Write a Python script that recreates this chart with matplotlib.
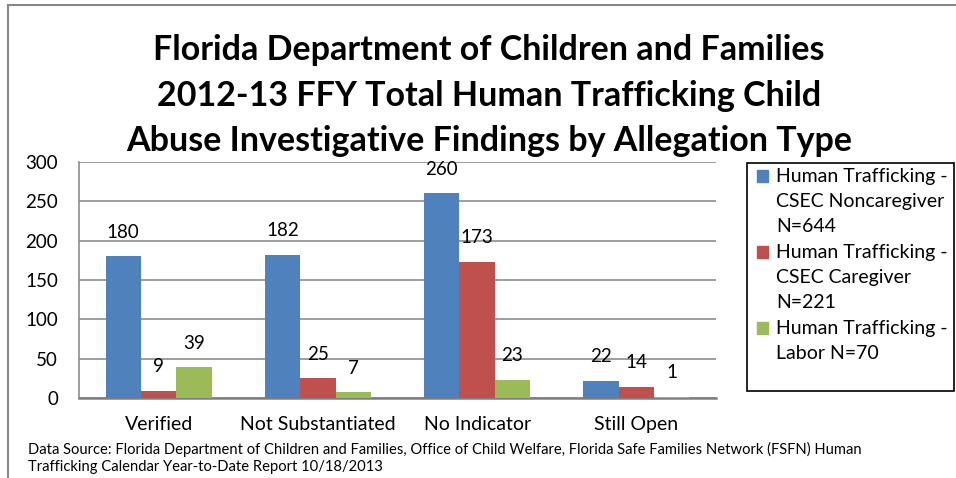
import matplotlib
matplotlib.use("Agg")
import matplotlib.pyplot as plt
import numpy as np
from matplotlib.patches import Rectangle
from matplotlib.lines import Line2D

plt.rcParams['font.family'] = ['Lato', 'DejaVu Sans']

categories = ["Verified", "Not Substantiated", "No Indicator", "Still Open"]
series_names = ["Human Trafficking -\nCSEC Noncaregiver\nN=644",
                "Human Trafficking -\nCSEC Caregiver\nN=221",
                "Human Trafficking -\nLabor N=70"]
noncaregiver = [180, 182, 260, 22]
caregiver = [9, 25, 173, 14]
labor = [39, 7, 23, 1]
series_values = [noncaregiver, caregiver, labor]
colors = ["#4F81BD", "#C0504D", "#9BBB59"]
yticks = [0, 50, 100, 150, 200, 250, 300]
title_lines = ["Florida Department of Children and Families",
               "2012-13 FFY Total Human Trafficking Child",
               "Abuse Investigative Findings by Allegation Type"]
source = ("Data Source: Florida Department of Children and Families, Office of Child Welfare, Florida Safe Families Network (FSFN) Human\n"
          "Trafficking Calendar Year-to-Date Report 10/18/2013")

W, H = 956, 478
fig = plt.figure(figsize=(W/100, H/100), dpi=100)
ax = fig.add_axes([79/W, 1-398/H, (716-79)/W, (398-162)/H])

x = np.arange(len(categories))
bw = 0.222
for i, (vals, c) in enumerate(zip(series_values, colors)):
    pos = x + (i-1)*bw
    bars = ax.bar(pos, vals, width=bw, color=c, zorder=3)
    for b, v in zip(bars, vals):
        ax.annotate(str(v), (b.get_x()+b.get_width()/2, v), xytext=(0, 17.5),
                    textcoords="offset points", ha="center", va="center",
                    fontsize=13.5, color="black")

ax.set_xlim(-0.5, len(categories)-0.5)
ax.set_ylim(0, 300)
ax.set_yticks(yticks)
ax.set_yticklabels([str(t) for t in yticks], fontsize=13.5)
ax.set_xticks(x)
ax.set_xticklabels(categories, fontsize=14)
ax.tick_params(axis='both', length=0)
ax.tick_params(axis='y', pad=15)
ax.tick_params(axis='x', pad=13)
ax.yaxis.grid(True, color="#8C8C8C", linewidth=1.2, zorder=0)
ax.set_axisbelow(True)
for s in ["top", "right"]:
    ax.spines[s].set_visible(False)
ax.spines["left"].set_color("#8C8C8C")
ax.spines["left"].set_linewidth(1.2)
ax.spines["bottom"].set_color("#808080")
ax.spines["bottom"].set_linewidth(1.8)

for k, line in enumerate(title_lines):
    fig.text(489/W, 1-(50+45.5*k)/H, line, ha="center", va="center",
             fontsize=24.5, fontweight="bold")

# legend box
lx0, ly0, lx1, ly1 = 747, 163, 954, 391
fig.add_artist(Rectangle((lx0/W, 1-ly1/H), (lx1-lx0)/W, (ly1-ly0)/H,
                         transform=fig.transFigure, fill=False,
                         edgecolor="black", linewidth=1.2))
line_h = 25.4
ytop = 176
n = 0
for name, c in zip(series_names, colors):
    yy = ytop + n*line_h
    fig.add_artist(Rectangle((757/W, 1-(yy+6)/H), 11/W, 12/H,
                             transform=fig.transFigure, color=c))
    for part in name.split("\n"):
        fig.text(776/W, 1-(ytop + n*line_h)/H, part, ha="left", va="center",
                 fontsize=14.0)
        n += 1

fig.text(28/W, 1-442/H, source, ha="left", va="top", fontsize=10.6,
         linespacing=1.3)

# outer frame lines (cropped chart border)
fig.add_artist(Line2D([8/W, 8/W], [0, 1-5/H], transform=fig.transFigure,
                      color="#888888", linewidth=1.5))
fig.add_artist(Line2D([8/W, 1], [1-5/H, 1-5/H], transform=fig.transFigure,
                      color="#888888", linewidth=1.5))

fig.savefig("out.png", dpi=100)
